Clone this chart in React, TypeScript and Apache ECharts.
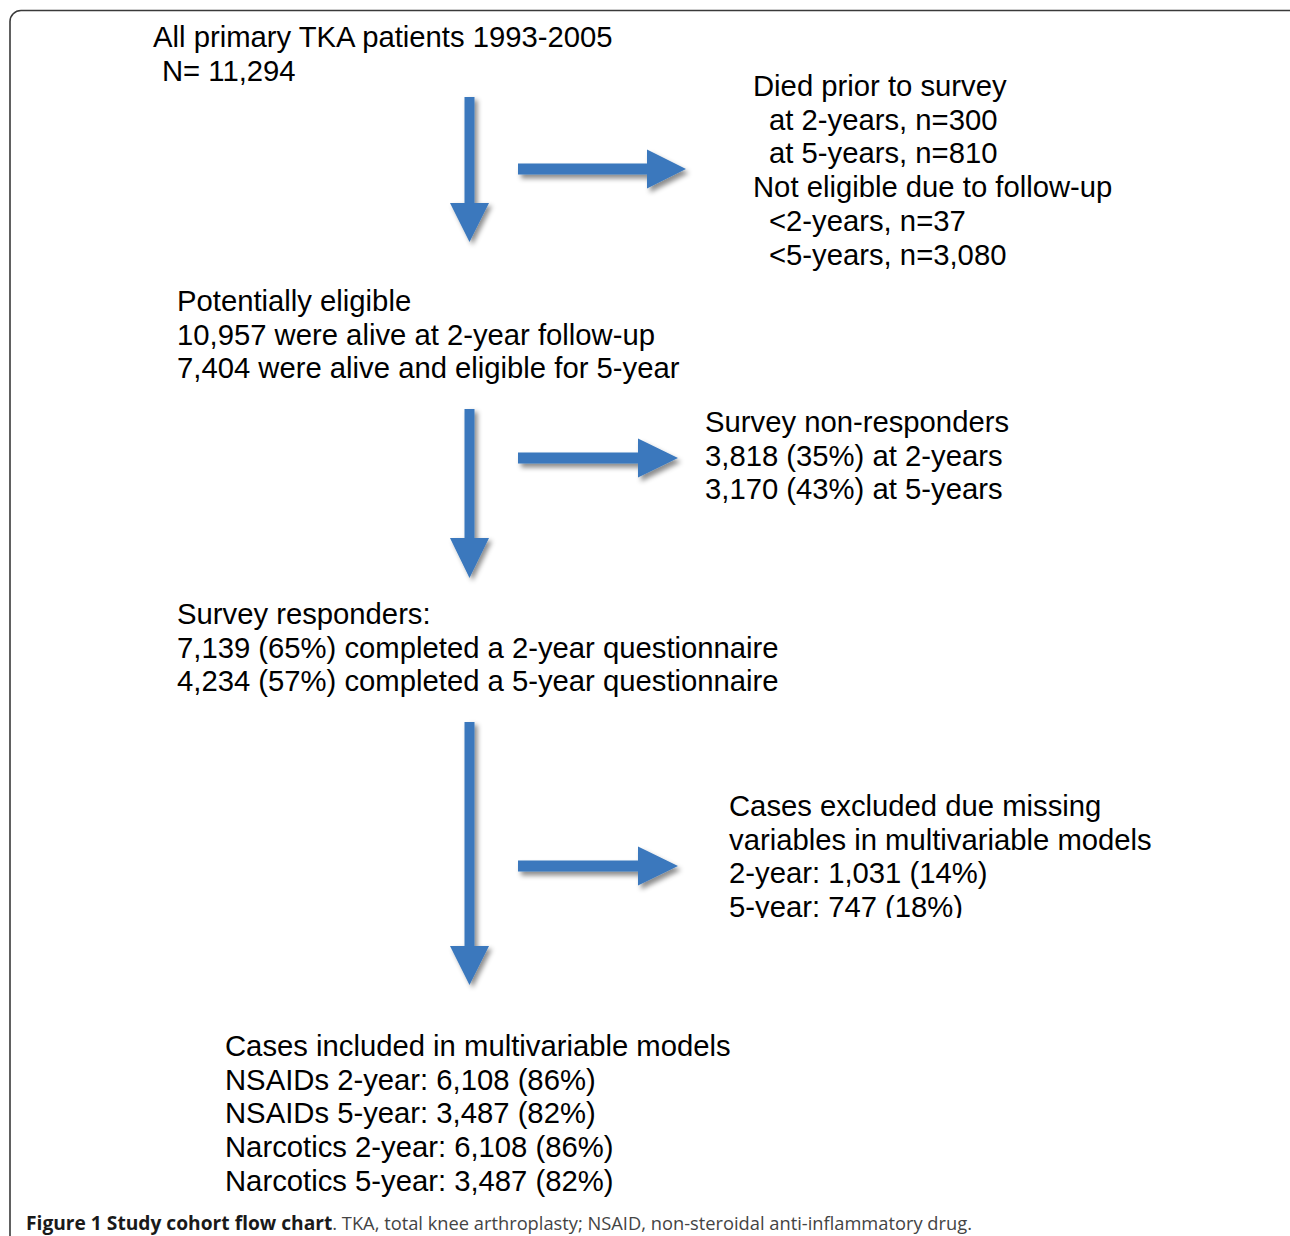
import React, { useEffect, useRef } from "react";
import * as echarts from "echarts";

// ---- content ----
const block1Lines = ["All primary TKA patients 1993-2005", " N= 11,294"];
const died = ["Died prior to survey", "  at 2-years, n=300", "  at 5-years, n=810", "Not eligible due to follow-up", "  <2-years, n=37", "  <5-years, n=3,080"];
const eligibleLines = ["Potentially eligible", "10,957 were alive at 2-year follow-up", "7,404 were alive and eligible for 5-year"];
const nonResp = ["Survey non-responders", "3,818 (35%) at 2-years", "3,170 (43%) at 5-years"];
const responders = ["Survey responders:", "7,139 (65%) completed a 2-year questionnaire", "4,234 (57%) completed a 5-year questionnaire"];
const excluded = ["Cases excluded due missing", "variables in multivariable models", "2-year: 1,031 (14%)", "5-year: 747 (18%)"];
const included = ["Cases included in multivariable models", "NSAIDs 2-year: 6,108 (86%)", "NSAIDs 5-year: 3,487 (82%)", "Narcotics 2-year: 6,108 (86%)", "Narcotics 5-year: 3,487 (82%)"];
const captionBold = "Figure 1 Study cohort flow chart";
const captionRest = ". TKA, total knee arthroplasty; NSAID, non-steroidal anti-inflammatory drug.";

const FONT = "Liberation Sans, Arial, sans-serif";
const BLUE = "#3a78bd";
const LH = 33.7;

function textBlock(lines: string[], x: number, y0: number, indentPx = 16) {
  return lines.map((t, i) => {
    const indented = t.startsWith("  ");
    const lead = t.startsWith(" ") && !indented ? 9 : 0;
    return {
      type: "text",
      x: x + (indented ? indentPx : 0) + lead,
      y: y0 + i * LH,
      style: {
        text: t.trimStart(),
        fontFamily: FONT,
        fontSize: 29.25,
        fill: "#000",
        verticalAlign: "middle",
        align: "left",
      },
      silent: true,
    };
  });
}

function vArrow(cx: number, y0: number, yb: number, yt: number) {
  const s = 5, h = 19.5;
  return {
    type: "polygon",
    shape: { points: [[cx - s, y0], [cx + s, y0], [cx + s, yb], [cx + h, yb], [cx, yt], [cx - h, yb], [cx - s, yb]] },
    style: { fill: BLUE, shadowBlur: 5, shadowOffsetX: 3, shadowOffsetY: 3, shadowColor: "rgba(0,0,0,0.45)" },
    silent: true,
  };
}

function hArrow(cy: number, x0: number, xb: number, xt: number) {
  const s = 5.5, h = 19.5;
  return {
    type: "polygon",
    shape: { points: [[x0, cy - s], [xb, cy - s], [xb, cy - h], [xt, cy], [xb, cy + h], [xb, cy + s], [x0, cy + s]] },
    style: { fill: BLUE, shadowBlur: 5, shadowOffsetX: 3, shadowOffsetY: 4, shadowColor: "rgba(0,0,0,0.45)" },
    silent: true,
  };
}

export default function App() {
  const ref = useRef<HTMLDivElement>(null);
  useEffect(() => {
    document.body.style.margin = "0";
    const chart = echarts.init(ref.current!, null, { renderer: "svg" });
    const elements: any[] = [
      {
        type: "rect",
        shape: { x: 10, y: 10.5, width: 1290, height: 1400, r: 11 },
        style: { fill: "none", stroke: "#3a3a3a", lineWidth: 1.6 },
        silent: true,
      },
      vArrow(469.5, 97, 203, 242),
      hArrow(169, 518, 647, 686),
      vArrow(469.5, 409, 538, 578),
      hArrow(458, 518, 638, 678),
      vArrow(469.5, 722, 946, 985),
      hArrow(866, 518, 638, 678),
      ...textBlock(block1Lines, 153, 37),
      ...textBlock(died, 753, 86),
      ...textBlock(eligibleLines, 177, 301),
      ...textBlock(nonResp, 705, 422),
      ...textBlock(responders, 177, 614),
      ...textBlock(excluded, 729, 806),
      {
        type: "rect",
        shape: { x: 700, y: 918, width: 400, height: 30 },
        style: { fill: "#fff" },
        silent: true,
      },
      ...textBlock(included, 225, 1046),
      {
        type: "text",
        x: 26,
        y: 1222,
        style: {
          text: "{b|" + captionBold + "}{r|" + captionRest + "}",
          verticalAlign: "middle",
          align: "left",
          rich: {
            b: { fontFamily: "Open Sans", fontWeight: "bold", fontSize: 19.2, fill: "#1a1a1a" },
            r: { fontFamily: "Open Sans", fontSize: 18.3, fill: "#444" },
          },
        },
        silent: true,
      },
    ];
    chart.setOption({ animation: false, graphic: { elements } });
    return () => chart.dispose();
  }, []);
  return <div ref={ref} style={{ width: 1290, height: 1236, background: "#fff" }} />;
}
